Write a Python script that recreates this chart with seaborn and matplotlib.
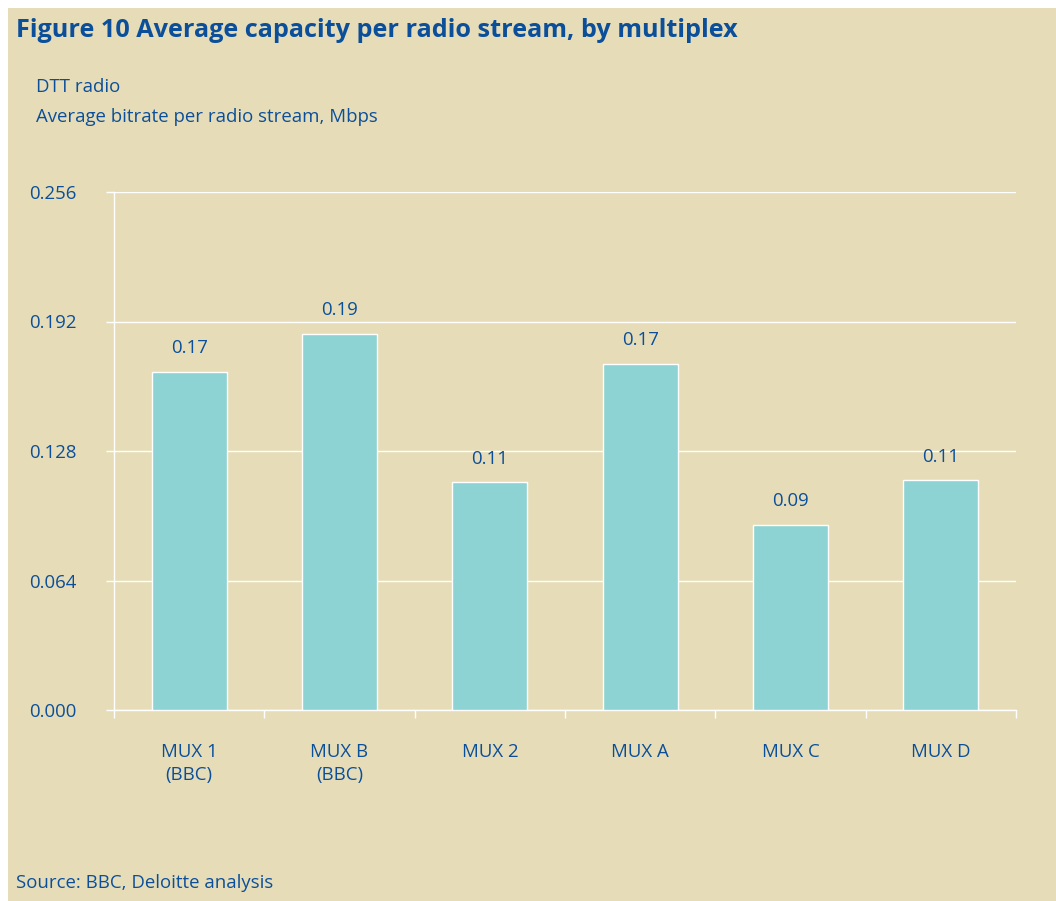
import matplotlib
matplotlib.use("Agg")
import matplotlib.pyplot as plt
from matplotlib.patches import Rectangle
from matplotlib.ticker import FixedLocator
import seaborn as sns
import pandas as pd

# ---- data ----
categories = ["MUX 1\n(BBC)", "MUX B\n(BBC)", "MUX 2", "MUX A", "MUX C", "MUX D"]
values = [0.167, 0.186, 0.1125, 0.171, 0.0915, 0.1135]
value_labels = ["0.17", "0.19", "0.11", "0.17", "0.09", "0.11"]
y_ticks = [0.000, 0.064, 0.128, 0.192, 0.256]
y_tick_labels = ["0.000", "0.064", "0.128", "0.192", "0.256"]

title = "Figure 10 Average capacity per radio stream, by multiplex"
subtitle1 = "DTT radio"
subtitle2 = "Average bitrate per radio stream, Mbps"
source = "Source: BBC, Deloitte analysis"

BG = "#e6ddb8"
BAR = "#8dd3d3"
BLUE = "#0b4f9a"
FS = 13.4

sns.set_theme(style="white")
plt.rcParams["font.family"] = ["Open Sans", "DejaVu Sans"]

W, H = 1056, 901
fig = plt.figure(figsize=(W / 100, H / 100), dpi=100, facecolor="white")
fig.patches.append(Rectangle((8 / W, 0), 1 - 8 / W, 1 - 8 / H,
                             transform=fig.transFigure, facecolor=BG,
                             edgecolor="none", zorder=-5))

ax = fig.add_axes([114 / W, 1 - 710 / H, (1016 - 114) / W, (710 - 192) / H])
ax.set_facecolor(BG)

df = pd.DataFrame({"mux": categories, "value": values})
sns.barplot(data=df, x="mux", y="value", color=BAR, width=0.5,
            edgecolor="white", linewidth=1.0, saturation=1, ax=ax, zorder=3)

ax.set_ylim(0, 0.256)
ax.set_xlim(-0.5, len(categories) - 0.5)
ax.set_yticks(y_ticks)
ax.set_yticklabels(y_tick_labels)
ax.set_xlabel("")
ax.set_ylabel("")

ax.yaxis.grid(True, color="white", linewidth=1.0, zorder=0)
ax.set_axisbelow(True)
for s in ["top", "right"]:
    ax.spines[s].set_visible(False)
for s in ["left", "bottom"]:
    ax.spines[s].set_color("white")
    ax.spines[s].set_linewidth(1.0)

ax.xaxis.set_minor_locator(FixedLocator([i - 0.5 for i in range(len(categories) + 1)]))
ax.tick_params(axis="x", which="major", length=0, pad=24, labelsize=FS, labelcolor=BLUE)
ax.tick_params(axis="x", which="minor", length=5.5, width=1, color="white", direction="out", bottom=True)
ax.tick_params(axis="y", which="major", length=6, width=1, color="white", direction="out",
               left=True, pad=21, labelsize=FS, labelcolor=BLUE)
for lab in ax.get_xticklabels():
    lab.set_linespacing(1.35)

for i, (v, lab) in enumerate(zip(values, value_labels)):
    ax.annotate(lab, (i, v), xytext=(0, 13.5), textcoords="offset points",
                ha="center", va="baseline", fontsize=FS, color=BLUE)

fig.text(16 / W, 1 - 37 / H, title, fontsize=18.2, fontweight="bold", color=BLUE,
         ha="left", va="baseline")
fig.text(36 / W, 1 - 92 / H, subtitle1, fontsize=FS, color=BLUE, ha="left", va="baseline")
fig.text(36 / W, 1 - 122 / H, subtitle2, fontsize=FS, color=BLUE, ha="left", va="baseline")
fig.text(16 / W, 1 - 888 / H, source, fontsize=FS, color=BLUE, ha="left", va="baseline")

fig.savefig("out.png", dpi=100, facecolor="white")
